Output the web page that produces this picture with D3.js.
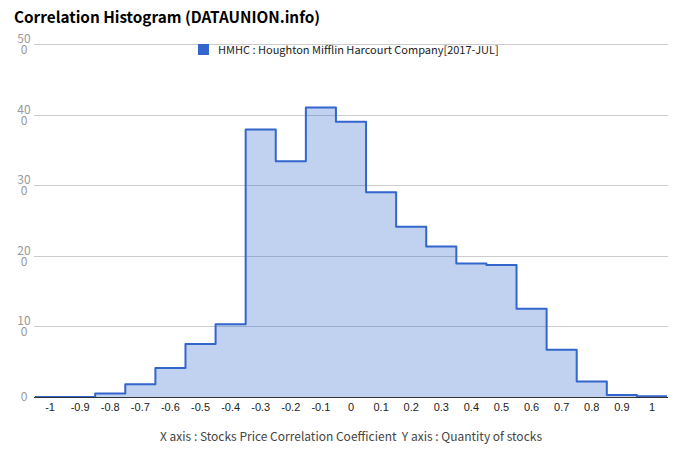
<!DOCTYPE html>
<html><head><meta charset="utf-8">
<script src="https://cdn.jsdelivr.net/npm/d3@7"></script>
<style>body{margin:0;background:#fff;} svg{display:block;font-family:"Noto Sans CJK KR","Noto Sans",sans-serif;}</style>
</head><body>
<svg id="c" width="680" height="462"></svg>
<script>
const categories = ["-1","-0.9","-0.8","-0.7","-0.6","-0.5","-0.4","-0.3","-0.2","-0.1","0","0.1","0.2","0.3","0.4","0.5","0.6","0.7","0.8","0.9","1"];
const counts = [0,0,5,18,41,75,103,379,334,410,390,290,241,213,189,187,125,67,22,3,1];
const yTicks = [0,100,200,300,400,500];
const seriesName = "HMHC : Houghton Mifflin Harcourt Company[2017-JUL]";
const title = "Correlation Histogram (DATAUNION.info)";
const caption = "X axis : Stocks Price Correlation Coefficient  Y axis : Quantity of stocks";

const svg = d3.select("#c");
const L = 35, R = 667, T = 44, B = 397;
const x = d3.scaleBand().domain(categories).range([L, R]).padding(0);
const y = d3.scaleLinear().domain([0, 500]).range([B, T]);

// grid
svg.append("g").selectAll("line").data(yTicks.filter(d=>d>0)).join("line")
  .attr("x1", L-1).attr("x2", R+1).attr("y1", d=>Math.round(y(d))+0.5).attr("y2", d=>Math.round(y(d))+0.5)
  .attr("stroke", "#cccccc").attr("stroke-width", 1);

// y labels (wrapped like original: "50" over "0")
const yl = svg.append("g").attr("fill", "#999").attr("font-size", 12).attr("text-anchor", "middle");
yTicks.forEach(v => {
  const s = String(v);
  const t = yl.append("text").attr("x", 24);
  if (s.length > 2) {
    t.append("tspan").attr("x", 24).attr("y", y(v) - 1).text(s.slice(0,2));
    t.append("tspan").attr("x", 24).attr("y", y(v) + 10).text(s.slice(2));
  } else {
    t.attr("y", y(v) + 4).text(s);
  }
});

// step points
const pts = [];
categories.forEach((c,i) => {
  pts.push([x(c), counts[i]]);
  pts.push([x(c) + x.bandwidth(), counts[i]]);
});
const area = d3.area().x(d=>d[0]).y0(B).y1(d=>y(d[1]));
const line = d3.line().x(d=>d[0]).y(d=>y(d[1]));
svg.append("path").datum(pts).attr("d", area).attr("fill", "#3366cc").attr("fill-opacity", 0.3);
svg.append("path").datum(pts).attr("d", line).attr("fill", "none").attr("stroke", "#3366cc").attr("stroke-width", 2).attr("stroke-linejoin","round");

// baseline
svg.append("line").attr("x1", L-1).attr("x2", R+1).attr("y1", B+0.5).attr("y2", B+0.5).attr("stroke", "#333").attr("stroke-width", 1);

// x axis labels
const xa = d3.axisBottom(x).tickSize(0).tickPadding(6);
const gx = svg.append("g").attr("transform", `translate(0,${B})`).call(xa);
gx.select(".domain").remove();
gx.selectAll("text").attr("font-size", 11).attr("fill", "#222").attr("font-family", null);

// title
svg.append("text").attr("x", 14).attr("y", 23).attr("font-size", 15.3).attr("font-weight", "bold").attr("fill", "#000").text(title);

// legend
svg.append("rect").attr("x", 198).attr("y", 44).attr("width", 11).attr("height", 11).attr("fill", "#3366cc");
svg.append("text").attr("x", 218).attr("y", 53.5).attr("font-size", 11).attr("fill", "#222").text(seriesName);

// caption
svg.append("text").attr("x", 351).attr("y", 441).attr("text-anchor", "middle").attr("font-size", 12).attr("fill", "#444")
  .style("white-space", "pre").text(caption);
</script>
</body></html>
